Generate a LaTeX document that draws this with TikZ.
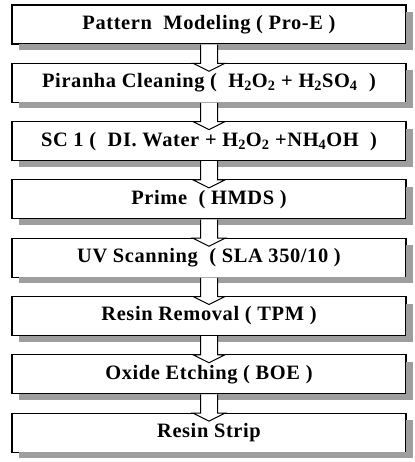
\documentclass[tikz,border=0pt]{standalone}
\usepackage{fontspec}
\setmainfont[LetterSpace=3]{Liberation Serif}
\usetikzlibrary{calc}
\begin{document}
\begin{tikzpicture}[x=1bp,y=-1bp]
\tikzset{
  stage/.style={draw, line width=1.1bp, fill=white, minimum width=394bp,
    minimum height=39bp, inner sep=0pt, outer sep=0pt,
    font=\fontsize{20.5}{22}\selectfont\bfseries},
  shadowc/.style={fill=black!38},
  flow/.style={draw, line width=1bp, fill=white, line join=miter}
}
\useasboundingbox (0,0) rectangle (414,462);
\node[stage] (b1) at (209,24.5)  {Pattern\ \ Modeling ( Pro-E )};
\node[stage] (b2) at (209,82.8)  {Piranha Cleaning (\ \ H\textsubscript{2}O\textsubscript{2} + H\textsubscript{2}SO\textsubscript{4}\ \ )};
\node[stage] (b3) at (209,141.1) {SC 1 (\ \ DI. Water + H\textsubscript{2}O\textsubscript{2} +NH\textsubscript{4}OH\ \ )};
\node[stage] (b4) at (209,199.4) {Prime\ \ ( HMDS )};
\node[stage] (b5) at (209,257.7) {UV Scanning\ \ ( SLA 350/10 )};
\node[stage] (b6) at (209,316.0) {Resin Removal ( TPM )};
\node[stage] (b7) at (209,374.3) {Oxide Etching ( BOE )};
\node[stage] (b8) at (209,432.6) {Resin Strip};
\foreach \b in {b1,b2,b3,b4,b5,b6,b7,b8}{
  \fill[shadowc] ($(\b.south west)+(7,0)$) rectangle ($(\b.south east)+(7,6)$);
  \fill[shadowc] ($(\b.north east)+(0,7)$) rectangle ($(\b.south east)+(7,0)$);
}
\foreach \a/\c in {b1/b2,b2/b3,b3/b4,b4/b5,b5/b6,b6/b7,b7/b8}{
  \filldraw[flow] ($(\a.south)+(-8.5,0.6)$) -- ($(\c.north)+(-8.5,0)$)
    -- ($(\c.north)+(-16,0)$) -- ($(\c.north)+(0,8)$) -- ($(\c.north)+(16,0)$)
    -- ($(\c.north)+(8.5,0)$) -- ($(\a.south)+(8.5,0.6)$);
}
\end{tikzpicture}
\end{document}
